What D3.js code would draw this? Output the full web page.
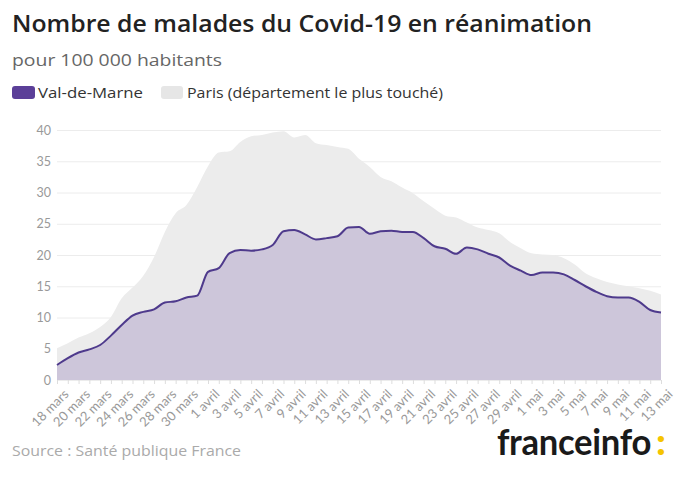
<!DOCTYPE html>
<html><head><meta charset="utf-8">
<script src="https://cdn.jsdelivr.net/npm/d3@7"></script>
<style>
body{margin:0;background:#fff;}
svg{display:block;font-family:"Open Sans",Lato,sans-serif;}
</style></head>
<body><svg id="c" width="680" height="480"></svg>
<script>
const startDate = "2020-03-18";
const endDate = "2020-05-13";
const valDeMarne = [2.4,3.5,4.4,4.9,5.6,7.1,8.8,10.3,10.9,11.3,12.4,12.6,13.2,13.5,17.3,17.9,20.3,20.8,20.7,20.9,21.6,23.8,24.0,23.3,22.5,22.7,23.0,24.4,24.5,23.4,23.8,23.9,23.7,23.7,22.7,21.4,21.0,20.2,21.2,20.9,20.2,19.6,18.3,17.5,16.8,17.2,17.2,16.9,16.0,15.0,14.1,13.4,13.2,13.2,12.5,11.2,10.8];
const paris = [5.1,5.9,6.8,7.5,8.5,10.1,13.1,14.8,16.7,19.7,23.7,26.7,28.0,30.9,34.2,36.4,36.6,38.1,39.0,39.2,39.6,39.8,38.8,39.2,37.9,37.6,37.3,37.0,35.4,34.1,32.5,31.8,30.8,29.9,28.6,27.4,26.3,26.0,25.2,24.4,24.0,23.5,22.1,21.1,20.3,20.1,20.0,19.5,18.5,17.1,16.3,15.7,15.3,15.0,14.7,14.3,13.7];
const yTicks = [0,5,10,15,20,25,30,35,40];
const seriesNames = ["Val-de-Marne","Paris (département le plus touché)"];
const title = "Nombre de malades du Covid-19 en réanimation";
const subtitle = "pour 100 000 habitants";
const source = "Source : Santé publique France";

const fr = d3.timeFormatLocale({dateTime:"%A %e %B %Y à %X",date:"%d/%m/%Y",time:"%H:%M:%S",periods:["AM","PM"],
  days:["dimanche","lundi","mardi","mercredi","jeudi","vendredi","samedi"],shortDays:["dim.","lun.","mar.","mer.","jeu.","ven.","sam."],
  months:["janvier","février","mars","avril","mai","juin","juillet","août","septembre","octobre","novembre","décembre"],
  shortMonths:["janv.","févr.","mars","avr.","mai","juin","juil.","août","sept.","oct.","nov.","déc."]});
const fmt = fr.format("%-d %B");
const parse = d3.timeParse("%Y-%m-%d");
const days = d3.timeDay.range(parse(startDate), d3.timeDay.offset(parse(endDate),1));
const data = days.map((d,i)=>({date:d, v:valDeMarne[i], p:paris[i]}));

const svg = d3.select("#c");
const m = {l:57, r:19, t:130, b:100};
const W = 680, H = 480;
const x = d3.scaleTime().domain([days[0], days[days.length-1]]).range([m.l, W-m.r]);
const y = d3.scaleLinear().domain([0,40]).range([H-m.b, m.t]);

// Title
svg.append("text").attr("x",12).attr("y",32).attr("fill","#222").attr("font-size",24).attr("font-weight",600)
  .attr("textLength",580).attr("lengthAdjust","spacingAndGlyphs").text(title);
svg.append("text").attr("x",12).attr("y",66).attr("fill","#666").attr("font-size",17)
  .attr("textLength",210).attr("lengthAdjust","spacingAndGlyphs").text(subtitle);
// Legend
const lg = svg.append("g");
lg.append("rect").attr("x",12).attr("y",86).attr("width",23).attr("height",13).attr("rx",3).attr("fill","#5b3f98");
lg.append("text").attr("x",38).attr("y",98).attr("fill","#333").attr("font-size",15)
  .attr("textLength",105).attr("lengthAdjust","spacingAndGlyphs").text(seriesNames[0]);
lg.append("rect").attr("x",161).attr("y",86).attr("width",22).attr("height",13).attr("rx",3).attr("fill","#e6e6e6");
lg.append("text").attr("x",187).attr("y",98).attr("fill","#333").attr("font-size",15)
  .attr("textLength",256).attr("lengthAdjust","spacingAndGlyphs").text(seriesNames[1]);

// Grid
const gy = svg.append("g").attr("transform",`translate(${m.l},0)`)
  .call(d3.axisLeft(y).tickValues(yTicks).tickSize(-(W-m.l-m.r)).tickPadding(6));
gy.select(".domain").remove();
gy.selectAll(".tick line").attr("stroke","#ececec");
gy.selectAll(".tick text").attr("fill","#999").attr("font-size",12.5).attr("font-family","Lato,sans-serif");

// Areas
svg.append("path").datum(data).attr("fill","#ececec")
  .attr("d", d3.area().x(d=>x(d.date)).y0(y(0)).y1(d=>y(d.p)).curve(d3.curveMonotoneX));
svg.append("path").datum(data).attr("fill","#cdc6da")
  .attr("d", d3.area().x(d=>x(d.date)).y0(y(0)).y1(d=>y(d.v)).curve(d3.curveMonotoneX));
svg.append("path").datum(data).attr("fill","none").attr("stroke","#4e3a8c").attr("stroke-width",2)
  .attr("d", d3.line().x(d=>x(d.date)).y(d=>y(d.v)).curve(d3.curveMonotoneX));

// X axis
const gx = svg.append("g").attr("transform",`translate(0,${H-m.b})`)
  .call(d3.axisBottom(x).tickValues(days).tickSize(4).tickFormat((d,i)=> i%2===0 ? fmt(d) : ""));
gx.select(".domain").remove();
gx.selectAll(".tick line").attr("stroke","#ddd");
gx.selectAll(".tick text").attr("fill","#999").attr("font-size",13).attr("font-family","Lato,sans-serif")
  .attr("text-anchor","end").attr("dy",0).attr("transform","translate(7,10) rotate(-45)");

// Source
svg.append("text").attr("x",12).attr("y",456).attr("fill","#aaa").attr("font-size",15)
  .attr("textLength",229).attr("lengthAdjust","spacingAndGlyphs").text(source);
// Logo
svg.append("text").attr("x",651).attr("y",455).attr("text-anchor","end").attr("font-size",36).attr("font-weight",700)
  .attr("font-family","Lato,sans-serif").attr("fill","#1a1a1a").attr("letter-spacing",-0.3)
  .attr("textLength",154).attr("lengthAdjust","spacingAndGlyphs").text("franceinfo");
svg.append("text").attr("x",656).attr("y",455).attr("font-size",38).attr("font-weight",900)
  .attr("font-family","Lato,sans-serif").attr("fill","#f5c400").text(":");
</script></body></html>
